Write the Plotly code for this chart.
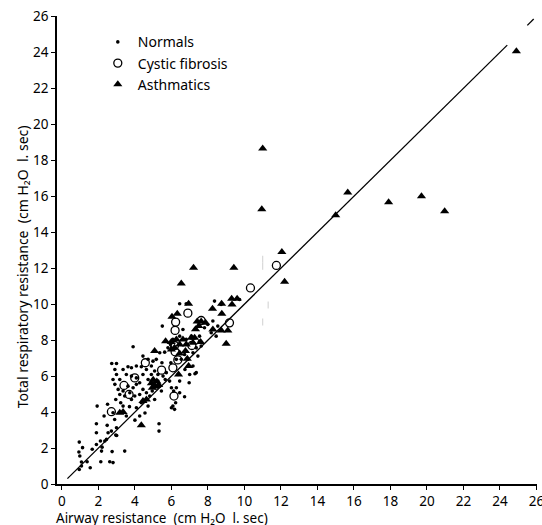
import plotly.graph_objects as go

# Airway resistance (x) vs total respiratory resistance (y), cmH2O/l/sec
normals_x = [0.95, 0.93, 0.98, 1.07, 0.95, 1.07, 1.38, 1.13, 1.89, 1.89, 1.93, 1.66, 1.89, 2.11, 2.17,
             2.13, 2.62, 2.80, 2.75, 3.44, 2.35, 2.44, 2.53, 2.48, 2.31, 2.50, 2.80, 2.89, 2.71, 2.95,
             2.99, 2.73, 2.99, 2.90, 2.99, 2.80, 2.90, 3.08, 3.17, 2.95, 3.22, 3.35, 3.53, 3.81, 3.99,
             4.08, 4.26, 4.35, 4.63, 4.81, 4.72, 4.95, 5.08, 5.03, 5.26, 5.45, 5.36, 5.66, 5.72, 5.90,
             6.00, 6.12, 6.23, 6.00, 5.32, 5.32, 6.72, 7.29, 7.00, 6.97, 3.90, 5.50, 5.97, 5.48, 5.17,
             4.90, 4.63, 4.35, 4.08, 3.81, 3.62, 3.35, 3.53, 3.81, 4.08, 4.26, 4.44, 4.72, 4.90, 5.08,
             5.26, 5.54, 3.17, 3.35, 3.62, 3.90, 4.08, 4.44, 4.63, 4.26, 3.72, 3.44, 4.44, 4.72, 4.99,
             5.36, 5.63, 5.81, 6.08, 5.95, 6.45, 6.63, 6.81, 6.27, 6.54, 6.72, 6.90, 7.18, 7.36, 7.09,
             7.54, 7.81, 7.99, 8.27, 8.18, 8.45, 8.54, 8.36, 6.45, 6.81, 8.72, 9.73, 7.54, 7.63, 7.45,
             7.18, 6.74, 6.36, 6.45, 7.36, 6.27, 6.45, 6.08, 6.17, 2.20, 1.55, 3.00, 3.70, 4.00, 4.55]
normals_y = [2.33, 1.78, 1.56, 1.22, 0.81, 1.00, 1.24, 2.02, 2.85, 3.35, 4.33, 1.93, 2.20, 2.39, 1.83,
             1.24, 1.24, 1.19, 1.80, 1.83, 2.39, 2.48, 2.85, 3.26, 3.78, 4.43, 3.96, 3.59, 2.94, 2.72,
             3.13, 6.70, 6.70, 6.37, 6.09, 5.81, 5.54, 5.26, 4.98, 4.70, 4.52, 4.33, 3.78, 4.70, 4.89,
             4.24, 3.78, 4.52, 4.70, 4.89, 4.33, 5.17, 4.70, 5.44, 5.72, 5.17, 5.44, 5.81, 6.19, 5.72,
             5.35, 5.17, 4.52, 4.24, 3.35, 2.94, 4.85, 6.13, 6.09, 5.63, 7.63, 8.78, 6.74, 6.74, 6.93,
             6.56, 6.37, 6.52, 6.56, 6.46, 6.52, 6.37, 6.09, 6.00, 5.90, 5.63, 6.09, 5.81, 6.09, 6.28,
             6.09, 6.00, 5.81, 5.17, 5.44, 5.35, 5.54, 5.26, 5.07, 4.98, 5.07, 4.89, 7.11, 6.93, 6.83,
             7.30, 7.33, 7.57, 8.04, 7.76, 8.22, 8.59, 8.04, 6.93, 6.93, 7.20, 6.93, 7.30, 7.57, 8.22,
             8.22, 8.69, 8.87, 9.06, 8.41, 8.22, 8.78, 10.17, 10.02, 10.02, 9.98, 10.26, 7.94, 7.67, 7.11,
             6.56, 6.37, 6.09, 5.72, 6.19, 5.35, 5.07, 4.33, 4.15, 2.05, 0.90, 2.70, 4.30, 3.55, 3.95]

cf_x = [6.90, 6.23, 6.20, 7.63, 6.17, 6.20, 7.12, 6.08, 5.46, 4.57, 3.99, 3.40, 3.68, 2.71, 6.14,
        9.18, 10.33, 11.75, 5.15, 6.35]
cf_y = [9.50, 9.00, 8.54, 9.09, 7.70, 7.35, 7.70, 6.46, 6.33, 6.74, 5.90, 5.48, 4.98, 4.02, 4.89,
        8.96, 10.90, 12.15, 5.50, 6.90]

asthma_x = [7.21, 9.42, 6.54, 6.94, 8.25, 8.75, 9.30, 9.60, 9.32, 8.76, 6.32, 6.03, 7.41, 7.63, 7.50,
            7.32, 7.87, 8.73, 9.09, 9.00, 5.68, 5.99, 6.27, 6.45, 6.63, 7.09, 7.27, 7.18, 6.81, 5.08,
            6.00, 6.17, 6.45, 6.77, 6.87, 6.94, 6.39, 4.90, 5.10, 5.20, 5.00, 4.95, 5.30, 3.17, 3.35,
            4.35, 4.63, 4.44, 8.27, 7.60,
            11.00, 10.95, 12.05, 12.20, 15.00, 15.66, 17.90, 19.70, 20.97, 24.90]
asthma_y = [12.02, 12.02, 11.15, 10.02, 9.75, 10.02, 10.30, 10.30, 9.98, 9.46, 9.46, 9.30, 9.04, 9.04, 8.78,
            8.60, 8.96, 8.54, 8.54, 7.80, 7.94, 7.89, 8.04, 7.76, 8.04, 8.13, 8.13, 7.85, 7.76, 7.39,
            7.48, 7.57, 7.26, 7.39, 6.96, 6.56, 6.09, 5.60, 5.45, 5.70, 5.80, 5.35, 5.50, 3.96, 4.00,
            3.26, 4.70, 4.61, 8.59, 7.90,
            18.65, 15.28, 12.90, 11.24, 14.94, 16.20, 15.66, 16.00, 15.17, 24.06]

# Faded marks in the print near Raw = 11
faded_x = [11.0, 11.0, 11.3, 11.0]
faded_y = [12.5, 12.1, 9.95, 9.0]

# Line of identity, broken where the print is faded
identity = [0.3, 24.4, None, 25.5, 25.85]

tick_vals = list(range(0, 27, 2))

FONT = "Noto Sans"

fig = go.Figure()
fig.add_trace(go.Scatter(x=identity, y=identity, mode="lines",
                         line=dict(color="black", width=1.3), showlegend=False, hoverinfo="skip"))
fig.add_trace(go.Scatter(x=faded_x, y=faded_y, mode="markers", showlegend=False, hoverinfo="skip",
                         marker=dict(symbol="line-ns", size=5, line=dict(color="#d4d4d4", width=1.1))))
fig.add_trace(go.Scatter(x=normals_x, y=normals_y, mode="markers", name="Normals",
                         marker=dict(symbol="circle", size=3.6, color="black")))
fig.add_trace(go.Scatter(x=cf_x, y=cf_y, mode="markers", name="Cystic fibrosis",
                         marker=dict(symbol="circle-open", size=8, color="black", line=dict(width=1.3))))
fig.add_trace(go.Scatter(x=asthma_x, y=asthma_y, mode="markers", name="Asthmatics",
                         marker=dict(symbol="triangle-up", size=8, color="black")))

axis_style = dict(tickvals=tick_vals, ticks="outside", ticklen=4, tickwidth=1.3, tickcolor="black",
                  showline=True, linecolor="black", linewidth=1.6, showgrid=False, zeroline=False,
                  tickfont=dict(size=13.5), ticklabeloverflow="allow", automargin=False)

fig.update_layout(
    width=542, height=525,
    margin=dict(l=57, r=5, t=16, b=41),
    paper_bgcolor="white", plot_bgcolor="white",
    font=dict(family=FONT, size=14, color="black"),
    showlegend=True,
    legend=dict(x=0.085, y=0.978, xanchor="left", yanchor="top",
                bgcolor="rgba(0,0,0,0)", font=dict(size=14), tracegroupgap=0),
    xaxis=dict(range=[-0.27, 26.03], **axis_style),
    yaxis=dict(range=[0, 26.02], **axis_style),
    annotations=[
        dict(text="Airway resistance  (cm H₂O  l. sec)", xref="paper", yref="paper",
             x=-0.005, y=-0.0735, xanchor="left", yanchor="middle", showarrow=False,
             font=dict(size=13.5), borderpad=0),
        dict(text="Total respiratory resistance  (cm H₂O  l. sec)", xref="paper",
             yref="paper", x=-0.072, y=0.464, xanchor="center", yanchor="middle",
             textangle=-90, showarrow=False, font=dict(size=14), borderpad=0),
    ],
)

fig.write_html("out.html")
